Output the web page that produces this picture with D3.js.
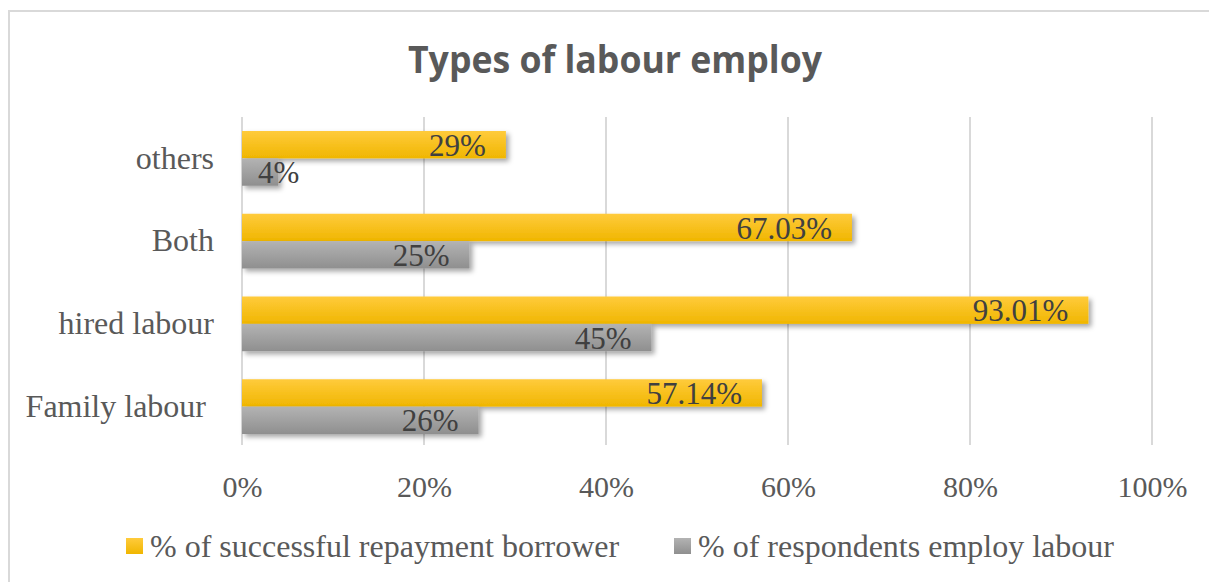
<!DOCTYPE html>
<html>
<head>
<meta charset="utf-8">
<script src="https://cdn.jsdelivr.net/npm/d3@7"></script>
<style>
  body { margin: 0; background: #fff; }
  svg { display: block; }
</style>
</head>
<body>
<div id="chart"></div>
<script>
// Chart data
const categories = ["others", "Both", "hired labour", "Family labour "];
const seriesNames = ["% of successful repayment borrower", "% of respondents employ labour"];
const repayment = [29, 67.03, 93.01, 57.14];
const employ = [4, 25, 45, 26];
const repaymentLabels = ["29%", "67.03%", "93.01%", "57.14%"];
const employLabels = ["4%", "25%", "45%", "26%"];
const ticks = [0, 20, 40, 60, 80, 100];

const width = 1209;
const height = 582;
const marginLeft = 242;
const marginRight = 57;
const plotTop = 117;
const plotBottom = 448;

const serif = "'Liberation Serif', 'Times New Roman', serif";

const svg = d3.select("#chart").append("svg")
    .attr("width", width)
    .attr("height", height);

// gradients and shadow
const defs = svg.append("defs");
function gradient(id, top, bottom) {
    const g = defs.append("linearGradient").attr("id", id)
        .attr("x1", 0).attr("y1", 0).attr("x2", 0).attr("y2", 1);
    g.append("stop").attr("offset", "0%").attr("stop-color", top);
    g.append("stop").attr("offset", "100%").attr("stop-color", bottom);
}
gradient("gYellow", "#ffcb3c", "#f0b600");
gradient("gGrey", "#b3b3b3", "#8f8f8f");
const f = defs.append("filter").attr("id", "shadow")
    .attr("x", "-5%").attr("y", "-30%").attr("width", "115%").attr("height", "170%");
f.append("feDropShadow").attr("dx", 3).attr("dy", 3).attr("stdDeviation", 2.5)
    .attr("flood-color", "#000").attr("flood-opacity", 0.35);

// chart border
svg.append("rect")
    .attr("x", 9).attr("y", 11)
    .attr("width", 1400).attr("height", 800)
    .attr("fill", "none").attr("stroke", "#d9d9d9").attr("stroke-width", 2);

// title
svg.append("text")
    .attr("x", 615).attr("y", 73)
    .attr("text-anchor", "middle")
    .attr("font-family", "'Open Sans', sans-serif")
    .attr("font-weight", "bold")
    .attr("font-size", 38)
    .attr("textLength", 414)
    .attr("lengthAdjust", "spacingAndGlyphs")
    .attr("fill", "#595959")
    .text("Types of labour employ");

// scales
const x = d3.scaleLinear()
    .domain([0, 100])
    .range([marginLeft, width - marginRight]);

const y = d3.scaleBand()
    .domain(categories)
    .range([plotTop, plotBottom]);

const ySub = d3.scaleBand()
    .domain([0, 1])
    .range([14, y.bandwidth() - 14]);

// gridlines
svg.append("g")
    .selectAll("line")
    .data(ticks)
    .join("line")
    .attr("x1", d => x(d)).attr("x2", d => x(d))
    .attr("y1", plotTop).attr("y2", plotBottom - 3)
    .attr("stroke", "#d9d9d9")
    .attr("stroke-width", 2);

// x axis labels
const xAxis = svg.append("g")
    .attr("transform", `translate(0,${plotBottom})`)
    .call(d3.axisBottom(x).tickValues(ticks).tickFormat(d => d + "%").tickSize(0).tickPadding(28));
xAxis.select(".domain").remove();
xAxis.selectAll("text")
    .attr("font-family", serif)
    .attr("font-size", 30)
    .attr("fill", "#595959");

// y axis labels
const yAxis = svg.append("g")
    .attr("transform", `translate(214,0)`)
    .call(d3.axisLeft(y).tickSize(0).tickPadding(0));
yAxis.select(".domain").remove();
yAxis.selectAll("text")
    .attr("font-family", serif)
    .attr("font-size", 32)
    .attr("fill", "#595959")
    .attr("xml:space", "preserve")
    .style("white-space", "pre");

// bars
const series = [
    { values: repayment, labels: repaymentLabels, fill: "url(#gYellow)" },
    { values: employ, labels: employLabels, fill: "url(#gGrey)" }
];

const barsG = svg.append("g");
series.forEach((s, si) => {
    barsG.append("g")
        .attr("filter", "url(#shadow)")
        .selectAll("rect")
        .data(categories)
        .join("rect")
        .attr("x", x(0))
        .attr("y", c => y(c) + ySub(si))
        .attr("width", (c, i) => x(s.values[i]) - x(0))
        .attr("height", ySub.bandwidth())
        .attr("fill", s.fill);
});

// data labels
series.forEach((s, si) => {
    barsG.append("g")
        .selectAll("text")
        .data(categories)
        .join("text")
        .attr("y", c => y(c) + ySub(si) + ySub.bandwidth() / 2)
        .attr("dy", "0.36em")
        .attr("text-anchor", "end")
        .attr("font-family", serif)
        .attr("font-size", 31)
        .attr("fill", "#404040")
        .text((c, i) => s.labels[i])
        .attr("x", function (c, i) {
            const w = this.getComputedTextLength();
            return Math.max(x(s.values[i]) - 20, x(0) + 16 + w);
        });
});

// legend
const legendItems = [
    { name: seriesNames[0], fill: "url(#gYellow)", x: 126 },
    { name: seriesNames[1], fill: "url(#gGrey)", x: 674 }
];
const legend = svg.append("g");
legendItems.forEach(item => {
    legend.append("rect")
        .attr("x", item.x).attr("y", 538)
        .attr("width", 17).attr("height", 16)
        .attr("fill", item.fill);
    legend.append("text")
        .attr("x", item.x + 24).attr("y", 557)
        .attr("font-family", serif)
        .attr("font-size", 32)
        .attr("fill", "#595959")
        .text(item.name);
});
</script>
</body>
</html>
